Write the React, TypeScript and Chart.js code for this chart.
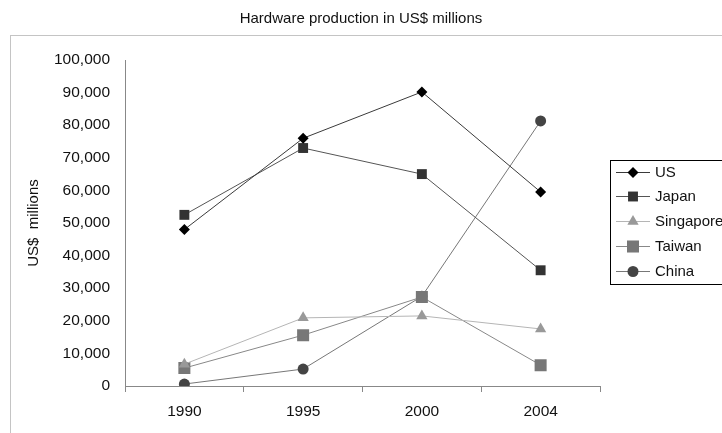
import React, { useEffect, useRef } from "react";
import { Chart, registerables } from "chart.js";

Chart.register(...registerables);

const years = ["1990", "1995", "2000", "2004"];
const usValues = [48000, 76000, 90200, 59500];
const japanValues = [52500, 73000, 65000, 35500];
const singaporeValues = [6700, 20900, 21500, 17500];
const taiwanValues = [5500, 15600, 27300, 6400];
const chinaValues = [600, 5200, 27500, 81300];
const seriesNames = ["US", "Japan", "Singapore", "Taiwan", "China"];

const FONT = "'Liberation Sans', Arial, sans-serif";

type Style = { point: string; line: string; shape: string; r: number };
const styles: Style[] = [
  { point: "#000000", line: "#3a3a3a", shape: "rectRot", r: 5.5 },
  { point: "#333333", line: "#555555", shape: "rect", r: 7 },
  { point: "#999999", line: "#b5b5b5", shape: "triangle", r: 6.5 },
  { point: "#777777", line: "#888888", shape: "rect", r: 8.5 },
  { point: "#444444", line: "#777777", shape: "circle", r: 5.5 },
];

function drawMarker(ctx: CanvasRenderingContext2D, shape: string, x: number, y: number, r: number, color: string) {
  ctx.save();
  ctx.fillStyle = color;
  ctx.beginPath();
  if (shape === "rectRot") {
    ctx.moveTo(x - r, y);
    ctx.lineTo(x, y - r);
    ctx.lineTo(x + r, y);
    ctx.lineTo(x, y + r);
    ctx.closePath();
  } else if (shape === "rect") {
    const s = Math.SQRT1_2 * r;
    ctx.rect(x - s, y - s, 2 * s, 2 * s);
  } else if (shape === "triangle") {
    const a = (2 * Math.PI) / 3;
    ctx.moveTo(x, y - r);
    ctx.lineTo(x + Math.sin(a) * r, y - Math.cos(a) * r);
    ctx.lineTo(x - Math.sin(a) * r, y - Math.cos(a) * r);
    ctx.closePath();
  } else {
    ctx.arc(x, y, r, 0, Math.PI * 2);
  }
  ctx.fill();
  ctx.restore();
}

const framePlugin = {
  id: "frame",
  beforeDraw(chart: any) {
    const ctx = chart.ctx as CanvasRenderingContext2D;
    ctx.save();
    ctx.strokeStyle = "#c4c4c4";
    ctx.lineWidth = 1;
    ctx.strokeRect(10.5, 35.5, 900, 600);
    ctx.restore();
  },
};

const legendPlugin = {
  id: "customLegend",
  afterDraw(chart: any) {
    const ctx = chart.ctx as CanvasRenderingContext2D;
    ctx.save();
    ctx.strokeStyle = "#000000";
    ctx.lineWidth = 1;
    ctx.strokeRect(610.5, 160.5, 200, 124);
    const rowY = [172, 196, 221, 246, 271];
    ctx.font = `15px ${FONT}`;
    ctx.textBaseline = "middle";
    ctx.textAlign = "left";
    seriesNames.forEach((name, i) => {
      const st = styles[i];
      const y = rowY[i];
      ctx.strokeStyle = st.line;
      ctx.beginPath();
      ctx.moveTo(616, y + 0.5);
      ctx.lineTo(650, y + 0.5);
      ctx.stroke();
      drawMarker(ctx, st.shape, 633, y + 0.5, st.r, st.point);
      ctx.fillStyle = "#111111";
      ctx.fillText(name, 655, y + 1);
    });
    ctx.restore();
  },
};

export default function App() {
  const canvasRef = useRef<HTMLCanvasElement | null>(null);

  useEffect(() => {
    if (!canvasRef.current) return;
    const dataArrays = [usValues, japanValues, singaporeValues, taiwanValues, chinaValues];
    const chart = new Chart(canvasRef.current, {
      type: "line",
      data: {
        labels: years,
        datasets: seriesNames.map((name, i) => ({
          label: name,
          data: dataArrays[i],
          borderColor: styles[i].line,
          borderWidth: 1,
          backgroundColor: styles[i].point,
          pointBackgroundColor: styles[i].point,
          pointBorderWidth: 0,
          pointBorderColor: styles[i].point,
          pointStyle: styles[i].shape as any,
          pointRadius: styles[i].r,
          tension: 0,
          fill: false,
        })),
      },
      plugins: [framePlugin, legendPlugin],
      options: {
        animation: false,
        responsive: false,
        maintainAspectRatio: false,
        layout: { padding: 0 },
        plugins: {
          legend: { display: false },
          tooltip: { enabled: false },
          title: {
            display: true,
            text: "Hardware production in US$ millions",
            color: "#111111",
            font: { family: FONT, size: 15, weight: "normal" },
            padding: { top: 10, bottom: 32 },
          },
        },
        scales: {
          x: {
            type: "category",
            offset: true,
            grid: {
              display: true,
              drawOnChartArea: false,
              drawTicks: true,
              tickLength: 6,
              offset: true,
              color: "#888888",
            },
            border: { display: true, color: "#888888", width: 1 },
            ticks: {
              color: "#111111",
              font: { family: FONT, size: 15.5 },
              padding: 10,
            },
            afterFit(scale: any) {
              scale.height = 47;
            },
          },
          y: {
            min: 0,
            max: 100000,
            grid: { display: true, drawOnChartArea: false, drawTicks: false },
            border: { display: true, color: "#888888", width: 1 },
            ticks: {
              stepSize: 10000,
              color: "#111111",
              font: { family: FONT, size: 15.5 },
              padding: 15,
              callback: (v: any) => Number(v).toLocaleString("en-US"),
            },
            title: {
              display: true,
              text: "US$  millions",
              color: "#111111",
              font: { family: FONT, size: 15 },
              padding: { top: 25, bottom: 0 },
            },
            afterFit(scale: any) {
              scale.width = 125;
            },
          },
          spacer: {
            type: "linear",
            position: "right",
            display: true,
            grid: { display: false, drawOnChartArea: false, drawTicks: false },
            border: { display: false },
            ticks: { display: false },
            afterFit(scale: any) {
              scale.width = 122;
            },
          },
        },
      },
    });
    return () => chart.destroy();
  }, []);

  return (
    <div style={{ position: "fixed", left: 0, top: 0, width: 722, height: 433, background: "#ffffff" }}>
      <canvas ref={canvasRef} width={722} height={433} style={{ width: 722, height: 433, display: "block" }} />
    </div>
  );
}
